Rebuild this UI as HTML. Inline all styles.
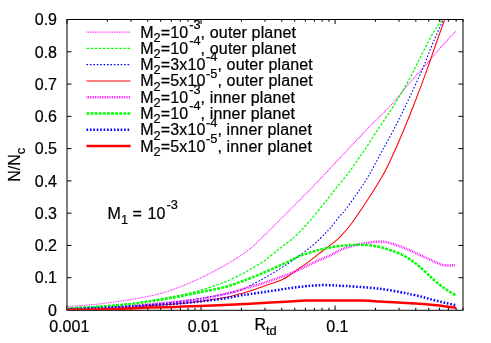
<!DOCTYPE html>
<html><head><meta charset="utf-8"><title>plot</title>
<style>
html,body{margin:0;padding:0;background:#fff;}
svg{display:block;will-change:transform;}
text{font-family:"Liberation Sans",sans-serif;font-size:16px;fill:#000;stroke:#000;stroke-width:0.22px;}
</style></head><body>
<svg width="491" height="343" viewBox="0 0 491 343">
<rect width="491" height="343" fill="#fff"/>
<defs><clipPath id="c"><rect x="67.00" y="19.50" width="396.00" height="290.50"/></clipPath></defs>
<rect x="67.00" y="19.50" width="396.00" height="290.80" fill="none" stroke="#000" stroke-width="1"/>
<path d="M67.00,277.72 h4.50 M463.00,277.72 h-4.50 M67.00,245.44 h4.50 M463.00,245.44 h-4.50 M67.00,213.17 h4.50 M463.00,213.17 h-4.50 M67.00,180.89 h4.50 M463.00,180.89 h-4.50 M67.00,148.61 h4.50 M463.00,148.61 h-4.50 M67.00,116.33 h4.50 M463.00,116.33 h-4.50 M67.00,84.06 h4.50 M463.00,84.06 h-4.50 M67.00,51.78 h4.50 M463.00,51.78 h-4.50 M67.00,310.00 v-4.50 M67.00,19.50 v4.50 M107.35,310.00 v-2.25 M107.35,19.50 v2.25 M130.96,310.00 v-2.25 M130.96,19.50 v2.25 M147.70,310.00 v-2.25 M147.70,19.50 v2.25 M160.69,310.00 v-2.25 M160.69,19.50 v2.25 M171.31,310.00 v-2.25 M171.31,19.50 v2.25 M180.28,310.00 v-2.25 M180.28,19.50 v2.25 M188.05,310.00 v-2.25 M188.05,19.50 v2.25 M194.91,310.00 v-2.25 M194.91,19.50 v2.25 M201.04,310.00 v-4.50 M201.04,19.50 v4.50 M241.40,310.00 v-2.25 M241.40,19.50 v2.25 M265.00,310.00 v-2.25 M265.00,19.50 v2.25 M281.75,310.00 v-2.25 M281.75,19.50 v2.25 M294.74,310.00 v-2.25 M294.74,19.50 v2.25 M305.35,310.00 v-2.25 M305.35,19.50 v2.25 M314.33,310.00 v-2.25 M314.33,19.50 v2.25 M322.10,310.00 v-2.25 M322.10,19.50 v2.25 M328.96,310.00 v-2.25 M328.96,19.50 v2.25 M335.09,310.00 v-4.50 M335.09,19.50 v4.50 M375.44,310.00 v-2.25 M375.44,19.50 v2.25 M399.04,310.00 v-2.25 M399.04,19.50 v2.25 M415.79,310.00 v-2.25 M415.79,19.50 v2.25 M428.78,310.00 v-2.25 M428.78,19.50 v2.25 M439.40,310.00 v-2.25 M439.40,19.50 v2.25 M448.37,310.00 v-2.25 M448.37,19.50 v2.25 M456.14,310.00 v-2.25 M456.14,19.50 v2.25 M463.00,310.00 v-2.25 M463.00,19.50 v2.25" fill="none" stroke="#000" stroke-width="1"/>
<text x="57" y="315.75" text-anchor="end">0</text>
<text x="57" y="283.47" text-anchor="end">0.1</text>
<text x="57" y="251.19" text-anchor="end">0.2</text>
<text x="57" y="218.92" text-anchor="end">0.3</text>
<text x="57" y="186.64" text-anchor="end">0.4</text>
<text x="57" y="154.36" text-anchor="end">0.5</text>
<text x="57" y="122.08" text-anchor="end">0.6</text>
<text x="57" y="89.81" text-anchor="end">0.7</text>
<text x="57" y="57.53" text-anchor="end">0.8</text>
<text x="57" y="25.25" text-anchor="end">0.9</text>
<text x="69.30" y="331.8" text-anchor="middle">0.001</text>
<text x="203.34" y="331.8" text-anchor="middle">0.01</text>
<text x="337.39" y="331.8" text-anchor="middle">0.1</text>
<text x="254.5" y="330.2">R<tspan font-size="12.8px" dy="4.8">td</tspan></text>
<text transform="translate(19.8,181.8) rotate(-90)">N/N<tspan font-size="12.8px" dy="4.8">c</tspan></text>
<text x="107.6" y="218.7">M<tspan font-size="12.8px" dy="4.8">1</tspan><tspan dy="-4.8"> =</tspan><tspan dx="1.2"> 10</tspan><tspan font-size="12.8px" dx="1.3" dy="-9.3">-3</tspan></text>
<g clip-path="url(#c)" fill="none">
<path d="M67.00,306.70 C72.50,306.22 89.50,304.96 100.00,303.80 C110.50,302.64 121.67,301.04 130.00,299.74 C138.33,298.44 145.00,297.02 150.00,296.00 C155.00,294.98 155.83,294.80 160.00,293.60 C164.17,292.40 168.33,291.35 175.00,288.80 C181.67,286.25 191.67,282.23 200.00,278.30 C208.33,274.37 218.33,268.92 225.00,265.20 C231.67,261.48 235.83,258.73 240.00,256.00 C244.17,253.27 247.62,250.63 250.00,248.80 C252.38,246.97 250.87,248.28 254.30,245.00 C257.73,241.72 264.65,234.98 270.60,229.10 C276.55,223.22 283.88,215.83 290.00,209.70 C296.12,203.57 301.68,198.05 307.30,192.30 C312.92,186.55 319.92,179.17 323.70,175.20 C327.48,171.23 325.55,173.23 330.00,168.50 C334.45,163.77 343.60,153.98 350.40,146.80 C357.20,139.62 364.00,132.37 370.80,125.40 C377.60,118.43 384.77,112.03 391.20,105.00 C397.63,97.97 402.87,90.77 409.40,83.20 C415.93,75.63 425.45,65.27 430.40,59.60 C435.35,53.93 436.20,52.52 439.10,49.20 C442.00,45.88 444.98,42.73 447.80,39.70 C450.62,36.67 454.63,32.45 456.00,31.00" stroke="#ff00ff" stroke-width="1.15" stroke-dasharray="0.8,0.91"/>
<path d="M67.00,308.40 C72.50,308.10 89.50,307.36 100.00,306.60 C110.50,305.84 121.67,304.81 130.00,303.84 C138.33,302.87 142.50,302.07 150.00,300.80 C157.50,299.53 166.67,297.93 175.00,296.20 C183.33,294.47 191.67,292.77 200.00,290.40 C208.33,288.03 218.33,284.57 225.00,282.00 C231.67,279.43 235.83,277.08 240.00,275.00 C244.17,272.92 245.83,271.95 250.00,269.50 C254.17,267.05 260.00,263.85 265.00,260.30 C270.00,256.75 275.68,251.58 280.00,248.20 C284.32,244.82 288.15,242.20 290.90,240.00 C293.65,237.80 293.95,237.50 296.50,235.00 C299.05,232.50 302.87,228.70 306.20,225.00 C309.53,221.30 313.05,216.97 316.50,212.80 C319.95,208.63 323.88,203.80 326.90,200.00 C329.92,196.20 332.42,192.77 334.60,190.00 C336.78,187.23 337.88,185.98 340.00,183.40 C342.12,180.82 343.77,179.23 347.30,174.50 C350.83,169.77 356.10,162.50 361.20,155.00 C366.30,147.50 372.40,137.83 377.90,129.50 C383.40,121.17 388.87,113.58 394.20,105.00 C399.53,96.42 406.17,84.68 409.90,78.00 C413.63,71.32 414.15,69.73 416.60,64.90 C419.05,60.07 421.82,54.40 424.60,49.00 C427.38,43.60 430.52,37.20 433.30,32.50 C436.08,27.80 438.85,24.38 441.30,20.80 C443.75,17.22 445.55,14.47 448.00,11.00 C450.45,7.53 454.67,1.83 456.00,0.00" stroke="#00ff00" stroke-width="1.25" stroke-dasharray="2.6,1.5"/>
<path d="M67.00,309.30 C72.50,309.08 89.50,308.51 100.00,308.00 C110.50,307.49 121.67,306.82 130.00,306.24 C138.33,305.66 142.50,305.21 150.00,304.50 C157.50,303.79 166.67,303.00 175.00,302.00 C183.33,301.00 191.67,299.83 200.00,298.50 C208.33,297.17 218.33,295.37 225.00,294.00 C231.67,292.63 235.83,291.70 240.00,290.30 C244.17,288.90 245.83,287.70 250.00,285.60 C254.17,283.50 258.33,281.58 265.00,277.70 C271.67,273.82 282.10,267.65 290.00,262.30 C297.90,256.95 306.45,250.50 312.40,245.60 C318.35,240.70 322.60,235.97 325.70,232.90 C328.80,229.83 328.62,230.05 331.00,227.20 C333.38,224.35 337.78,218.45 340.00,215.80 C342.22,213.15 341.55,214.87 344.30,211.30 C347.05,207.73 352.42,200.37 356.50,194.40 C360.58,188.43 364.72,182.40 368.80,175.50 C372.88,168.60 376.92,160.50 381.00,153.00 C385.08,145.50 389.13,138.50 393.30,130.50 C397.47,122.50 401.13,115.25 406.00,105.00 C410.87,94.75 418.32,78.58 422.50,69.00 C426.68,59.42 428.57,53.67 431.10,47.50 C433.63,41.33 435.75,36.45 437.70,32.00 C439.65,27.55 441.08,24.80 442.80,20.80 C444.52,16.80 445.80,13.13 448.00,8.00 C450.20,2.87 454.67,-7.00 456.00,-10.00" stroke="#0000ff" stroke-width="1.10" stroke-dasharray="1.6,1.82"/>
<path d="M67.00,309.80 C72.50,309.77 89.50,309.93 100.00,309.60 C110.50,309.28 121.67,308.51 130.00,307.84 C138.33,307.17 142.50,306.26 150.00,305.60 C157.50,304.94 166.67,304.60 175.00,303.90 C183.33,303.20 191.67,302.47 200.00,301.40 C208.33,300.33 218.33,298.77 225.00,297.50 C231.67,296.23 235.83,294.88 240.00,293.80 C244.17,292.72 245.83,292.33 250.00,291.00 C254.17,289.67 259.67,287.68 265.00,285.80 C270.33,283.92 277.83,281.50 282.00,279.70 C286.17,277.90 287.00,276.98 290.00,275.00 C293.00,273.02 296.67,270.17 300.00,267.80 C303.33,265.43 307.00,263.03 310.00,260.80 C313.00,258.57 315.17,256.60 318.00,254.40 C320.83,252.20 324.00,249.90 327.00,247.60 C330.00,245.30 333.83,242.40 336.00,240.60 C338.17,238.80 337.60,239.40 340.00,236.80 C342.40,234.20 345.77,231.22 350.40,225.00 C355.03,218.78 362.37,207.83 367.80,199.50 C373.23,191.17 378.75,182.58 383.00,175.00 C387.25,167.42 389.88,161.42 393.30,154.00 C396.72,146.58 400.08,138.67 403.50,130.50 C406.92,122.33 409.98,114.85 413.80,105.00 C417.62,95.15 423.03,80.65 426.40,71.40 C429.77,62.15 431.77,55.90 434.00,49.50 C436.23,43.10 438.05,37.92 439.80,33.00 C441.55,28.08 442.80,24.83 444.50,20.00 C446.20,15.17 448.08,9.67 450.00,4.00 C451.92,-1.67 455.00,-11.00 456.00,-14.00" stroke="#ff0000" stroke-width="1.05"/>
<path d="M67.00,309.80 C72.50,309.57 89.50,309.00 100.00,308.40 C110.50,307.81 121.67,306.94 130.00,306.24 C138.33,305.54 142.50,304.91 150.00,304.20 C157.50,303.49 166.67,302.87 175.00,302.00 C183.33,301.13 191.67,300.33 200.00,299.00 C208.33,297.67 218.33,295.50 225.00,294.00 C231.67,292.50 235.83,291.17 240.00,290.00 C244.17,288.83 245.83,288.23 250.00,287.00 C254.17,285.77 258.33,284.83 265.00,282.60 C271.67,280.37 283.58,276.12 290.00,273.60 C296.42,271.08 299.33,269.43 303.50,267.50 C307.67,265.57 312.25,263.32 315.00,262.00 C317.75,260.68 317.47,260.68 320.00,259.60 C322.53,258.52 326.80,257.12 330.20,255.50 C333.60,253.88 337.02,251.42 340.40,249.90 C343.78,248.38 347.12,247.40 350.50,246.40 C353.88,245.40 357.30,244.58 360.70,243.90 C364.10,243.22 368.02,242.67 370.90,242.30 C373.78,241.93 375.28,241.70 378.00,241.70 C380.72,241.70 383.97,241.68 387.20,242.30 C390.43,242.92 394.00,244.22 397.40,245.40 C400.80,246.58 403.87,247.82 407.60,249.40 C411.33,250.98 416.40,253.35 419.80,254.90 C423.20,256.45 425.30,257.45 428.00,258.70 C430.70,259.95 433.55,261.35 436.00,262.40 C438.45,263.45 440.70,264.50 442.70,265.00 C444.70,265.50 445.85,265.35 448.00,265.40 C450.15,265.45 454.33,265.32 455.60,265.30" stroke="#ff00ff" stroke-width="2.50" stroke-dasharray="0.8,0.91"/>
<path d="M67.00,308.40 C72.50,308.10 89.50,307.33 100.00,306.60 C110.50,305.88 121.67,304.92 130.00,304.04 C138.33,303.16 142.50,302.42 150.00,301.30 C157.50,300.18 166.67,298.80 175.00,297.30 C183.33,295.80 191.67,294.02 200.00,292.30 C208.33,290.58 218.33,288.72 225.00,287.00 C231.67,285.28 235.83,283.45 240.00,282.00 C244.17,280.55 245.83,279.95 250.00,278.30 C254.17,276.65 258.33,275.02 265.00,272.10 C271.67,269.18 284.17,263.50 290.00,260.80 C295.83,258.10 295.83,257.53 300.00,255.90 C304.17,254.27 311.67,252.03 315.00,251.00 C318.33,249.97 317.47,250.30 320.00,249.70 C322.53,249.10 326.80,248.03 330.20,247.40 C333.60,246.77 337.02,246.30 340.40,245.90 C343.78,245.50 347.12,245.18 350.50,245.00 C353.88,244.82 357.30,244.73 360.70,244.80 C364.10,244.87 367.50,244.97 370.90,245.40 C374.30,245.83 377.70,246.55 381.10,247.40 C384.50,248.25 387.90,249.32 391.30,250.50 C394.70,251.68 398.10,252.82 401.50,254.50 C404.90,256.18 408.65,258.55 411.70,260.60 C414.75,262.65 416.75,264.20 419.80,266.80 C422.85,269.40 427.73,274.08 430.00,276.20 C432.27,278.32 430.90,277.42 433.40,279.50 C435.90,281.58 441.23,286.03 445.00,288.70 C448.77,291.37 454.17,294.37 456.00,295.50" stroke="#00ff00" stroke-width="2.50" stroke-dasharray="2.8,1.3"/>
<path d="M67.00,309.20 C72.50,309.00 89.50,308.43 100.00,308.00 C110.50,307.58 121.67,307.07 130.00,306.64 C138.33,306.21 142.50,305.87 150.00,305.40 C157.50,304.93 166.67,304.47 175.00,303.80 C183.33,303.13 191.67,302.30 200.00,301.40 C208.33,300.50 218.33,299.38 225.00,298.40 C231.67,297.42 235.83,296.23 240.00,295.50 C244.17,294.77 245.83,294.60 250.00,294.00 C254.17,293.40 258.33,292.88 265.00,291.90 C271.67,290.92 283.33,289.03 290.00,288.10 C296.67,287.17 300.83,286.75 305.00,286.30 C309.17,285.85 312.00,285.60 315.00,285.40 C318.00,285.20 320.17,285.12 323.00,285.10 C325.83,285.08 329.17,285.20 332.00,285.30 C334.83,285.40 336.17,285.48 340.00,285.70 C343.83,285.92 348.33,286.08 355.00,286.60 C361.67,287.12 371.67,287.73 380.00,288.80 C388.33,289.87 400.00,292.12 405.00,293.00 C410.00,293.88 407.22,293.47 410.00,294.10 C412.78,294.73 417.80,295.82 421.70,296.80 C425.60,297.78 429.52,299.00 433.40,300.00 C437.28,301.00 441.23,301.93 445.00,302.80 C448.77,303.67 454.17,304.80 456.00,305.20" stroke="#0000ff" stroke-width="2.50" stroke-dasharray="1.6,1.82"/>
<path d="M67.00,309.80 C72.50,309.77 89.50,309.83 100.00,309.60 C110.50,309.38 121.67,308.77 130.00,308.44 C138.33,308.11 142.50,307.86 150.00,307.60 C157.50,307.34 166.67,307.18 175.00,306.90 C183.33,306.62 189.17,306.33 200.00,305.90 C210.83,305.47 231.67,304.65 240.00,304.30 C248.33,303.95 241.67,304.28 250.00,303.80 C258.33,303.32 280.67,301.95 290.00,301.40 C299.33,300.85 299.33,300.67 306.00,300.50 C312.67,300.33 320.83,300.40 330.00,300.40 C339.17,300.40 354.00,300.40 361.00,300.50 C368.00,300.60 368.83,300.82 372.00,301.00 C375.17,301.18 374.50,301.27 380.00,301.60 C385.50,301.93 396.10,302.42 405.00,303.00 C413.90,303.58 424.90,304.28 433.40,305.10 C441.90,305.92 452.23,307.43 456.00,307.90" stroke="#ff0000" stroke-width="2.50"/>
</g>
<path d="M86.5,32.10 H130.6" stroke="#ff00ff" stroke-width="1.15" stroke-dasharray="0.8,0.91" fill="none"/>
<text x="140.2" y="37.50">M<tspan font-size="12.8px" dy="4.3">2</tspan><tspan dy="-4.3" letter-spacing="0.2">=10</tspan><tspan font-size="12.8px" dx="0.8" dy="-8.7">-3</tspan><tspan dy="8.7" letter-spacing="0.15">, outer planet</tspan></text>
<path d="M86.5,48.38 H130.6" stroke="#00ff00" stroke-width="1.25" stroke-dasharray="2.6,1.5" fill="none"/>
<text x="140.2" y="53.80">M<tspan font-size="12.8px" dy="4.3">2</tspan><tspan dy="-4.3" letter-spacing="0.2">=10</tspan><tspan font-size="12.8px" dx="0.8" dy="-8.7">-4</tspan><tspan dy="8.7" letter-spacing="0.15">, outer planet</tspan></text>
<path d="M86.5,64.66 H130.6" stroke="#0000ff" stroke-width="1.10" stroke-dasharray="1.6,1.82" fill="none"/>
<text x="140.2" y="70.10">M<tspan font-size="12.8px" dy="4.3">2</tspan><tspan dy="-4.3" letter-spacing="0.2">=3x10</tspan><tspan font-size="12.8px" dx="0.3" dy="-8.7">-4</tspan><tspan dy="8.7" letter-spacing="0.15">, outer planet</tspan></text>
<path d="M86.5,81.00 H130.6" stroke="#ff0000" stroke-width="1.05" fill="none"/>
<text x="140.2" y="86.40">M<tspan font-size="12.8px" dy="4.3">2</tspan><tspan dy="-4.3" letter-spacing="0.2">=5x10</tspan><tspan font-size="12.8px" dx="0.3" dy="-8.7">-5</tspan><tspan dy="8.7" letter-spacing="0.15">, outer planet</tspan></text>
<path d="M86.5,97.22 H130.6" stroke="#ff00ff" stroke-width="2.50" stroke-dasharray="0.8,0.91" fill="none"/>
<text x="140.2" y="102.70">M<tspan font-size="12.8px" dy="4.3">2</tspan><tspan dy="-4.3" letter-spacing="0.2">=10</tspan><tspan font-size="12.8px" dx="0.8" dy="-8.7">-3</tspan><tspan dy="8.7" letter-spacing="0.15">, inner planet</tspan></text>
<path d="M86.5,113.50 H130.6" stroke="#00ff00" stroke-width="2.50" stroke-dasharray="2.8,1.3" fill="none"/>
<text x="140.2" y="119.00">M<tspan font-size="12.8px" dy="4.3">2</tspan><tspan dy="-4.3" letter-spacing="0.2">=10</tspan><tspan font-size="12.8px" dx="0.8" dy="-8.7">-4</tspan><tspan dy="8.7" letter-spacing="0.15">, inner planet</tspan></text>
<path d="M86.5,129.78 H130.6" stroke="#0000ff" stroke-width="2.50" stroke-dasharray="1.6,1.82" fill="none"/>
<text x="140.2" y="135.30">M<tspan font-size="12.8px" dy="4.3">2</tspan><tspan dy="-4.3" letter-spacing="0.2">=3x10</tspan><tspan font-size="12.8px" dx="0.3" dy="-8.7">-4</tspan><tspan dy="8.7" letter-spacing="0.15">, inner planet</tspan></text>
<path d="M86.5,146.06 H130.6" stroke="#ff0000" stroke-width="2.50" fill="none"/>
<text x="140.2" y="151.60">M<tspan font-size="12.8px" dy="4.3">2</tspan><tspan dy="-4.3" letter-spacing="0.2">=5x10</tspan><tspan font-size="12.8px" dx="0.3" dy="-8.7">-5</tspan><tspan dy="8.7" letter-spacing="0.15">, inner planet</tspan></text>
</svg>
</body></html>
